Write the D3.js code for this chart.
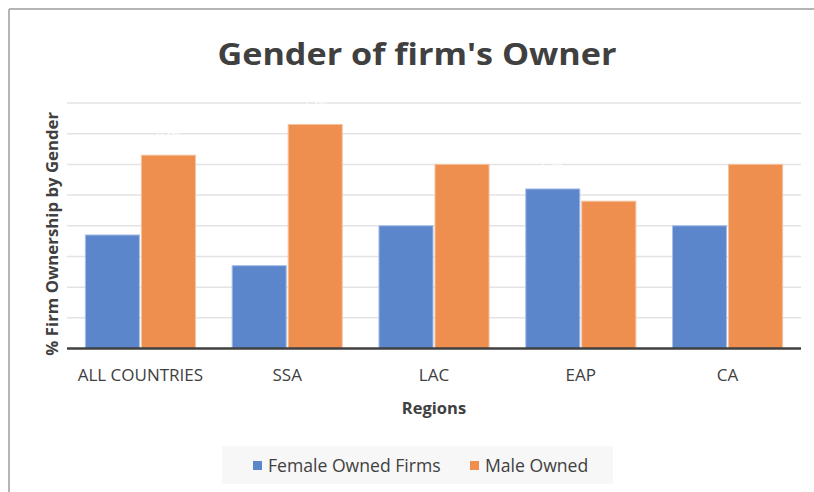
<!DOCTYPE html>
<html>
<head>
<meta charset="utf-8">
<script src="https://cdn.jsdelivr.net/npm/d3@7"></script>
<style>
  body { margin: 0; background: #fff; }
  text { font-family: "Open Sans", "Liberation Sans", sans-serif; fill: #404040; }
</style>
</head>
<body>
<div id="chart-container"></div>
<script>
const regions = ["ALL COUNTRIES", "SSA", "LAC", "EAP", "CA"];
const seriesNames = ["Female Owned Firms", "Male Owned"];
const femaleValues = [37, 27, 40, 52, 40];
const maleValues = [63, 73, 60, 48, 60];
const yTicks = [0, 10, 20, 30, 40, 50, 60, 70, 80];
const seriesColors = ["#5b86cc", "#ee8e4f"];

const W = 814, H = 492;
const plot = {left: 67, right: 801, top: 103, bottom: 348.5};

const svg = d3.select("#chart-container").append("svg")
    .attr("width", W).attr("height", H);

// frame (only top and left edges show in the shot)
svg.append("line").attr("x1", 9).attr("y1", 9).attr("x2", W).attr("y2", 9)
    .attr("stroke", "#b5b5b5").attr("stroke-width", 2);
svg.append("line").attr("x1", 9).attr("y1", 9).attr("x2", 9).attr("y2", H)
    .attr("stroke", "#b5b5b5").attr("stroke-width", 2);

svg.append("text")
    .attr("x", 417).attr("y", 65)
    .attr("text-anchor", "middle")
    .attr("textLength", 399).attr("lengthAdjust", "spacingAndGlyphs")
    .style("font-size", "31px").style("font-weight", "bold")
    .text("Gender of firm's Owner");

const x0 = d3.scaleBand().domain(regions).range([plot.left, plot.right])
    .paddingInner(0.25).paddingOuter(0.125);
const x1 = d3.scaleBand().domain(seriesNames).range([0, x0.bandwidth()]).paddingInner(0.035);
const y = d3.scaleLinear().domain([0, 80]).range([plot.bottom, plot.top]);

// gridlines
svg.append("g").selectAll("line").data(yTicks.slice(1)).enter().append("line")
    .attr("x1", plot.left).attr("x2", plot.right)
    .attr("y1", d => y(d)).attr("y2", d => y(d))
    .attr("stroke", "#e3e3e3").attr("stroke-width", 1.5);

const rows = regions.map((r, i) => ({region: r, values: [femaleValues[i], maleValues[i]]}));

const groups = svg.append("g").selectAll("g").data(rows).enter().append("g")
    .attr("transform", d => `translate(${x0(d.region)},0)`);

groups.selectAll("rect").data(d => d.values.map((v, k) => ({name: seriesNames[k], value: v, k})))
    .enter().append("rect")
    .attr("x", d => x1(d.name))
    .attr("width", x1.bandwidth())
    .attr("y", d => y(d.value))
    .attr("height", d => y(0) - y(d.value))
    .attr("fill", d => seriesColors[d.k])
    .attr("stroke", d => d.k === 0 ? "#a9bfe6" : "#f5c3a0")
    .attr("stroke-width", 1);

// white data labels (they only show where they cut the gridlines)
groups.selectAll("text.lbl").data(d => d.values.map((v, k) => ({name: seriesNames[k], value: v})))
    .enter().append("text").attr("class", "lbl")
    .attr("x", d => x1(d.name) + x1.bandwidth() / 2)
    .attr("y", d => y(d.value) - 18)
    .attr("text-anchor", "middle")
    .style("font-size", "12px").style("fill", "#ffffff")
    .text(d => d.value + "%");

// x axis
const xAxis = svg.append("g").attr("transform", `translate(0,${plot.bottom})`)
    .call(d3.axisBottom(x0).tickSize(0).tickPadding(20));
xAxis.select(".domain").attr("stroke", "#404040").attr("stroke-width", 2.5)
    .attr("d", `M${plot.left},0H${plot.right}`);
xAxis.selectAll(".tick text").style("font-size", "17px").style("fill", "#404040")
    .style("font-family", "'Open Sans', sans-serif");

svg.append("text")
    .attr("x", 434).attr("y", 414)
    .attr("text-anchor", "middle")
    .style("font-size", "16.5px").style("font-weight", "bold")
    .text("Regions");

svg.append("text")
    .attr("transform", `translate(58,${(plot.top + plot.bottom) / 2 + 8}) rotate(-90)`)
    .attr("text-anchor", "middle")
    .style("font-size", "16.8px").style("font-weight", "bold")
    .text("% Firm Ownership by Gender");

// legend
const legend = svg.append("g");
legend.append("rect").attr("x", 222).attr("y", 446).attr("width", 391).attr("height", 38)
    .attr("fill", "#f7f7f7");
const legendX = [253, 470];
seriesNames.forEach((name, i) => {
    legend.append("rect").attr("x", legendX[i]).attr("y", 461).attr("width", 9).attr("height", 9)
        .attr("fill", seriesColors[i]);
    legend.append("text").attr("x", legendX[i] + 15).attr("y", 472)
        .style("font-size", "17.6px").text(name);
});
</script>
</body>
</html>
